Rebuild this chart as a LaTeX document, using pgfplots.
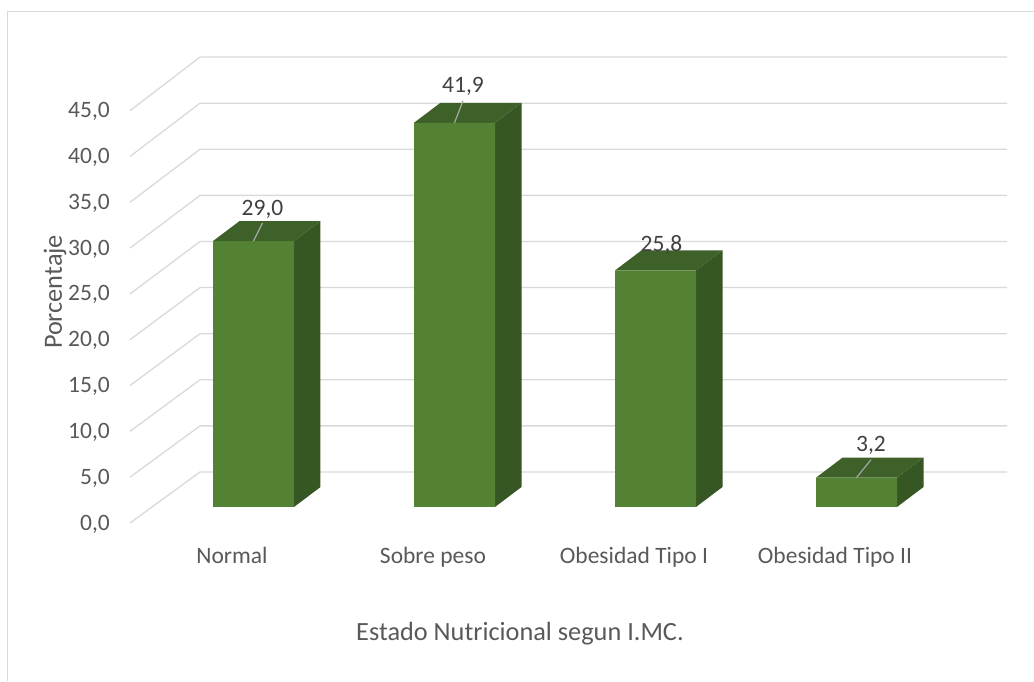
\documentclass[border=0pt]{standalone}
\usepackage{pgfplots}
\pgfplotsset{compat=1.18}
\usepackage{pgfplotstable}
\usepackage{fontspec}
\setmainfont{Carlito}

\definecolor{frontgreen}{HTML}{548235}
\definecolor{topgreen}{HTML}{3E6129}
\definecolor{sidegreen}{HTML}{365623}
\definecolor{gridgray}{HTML}{D9D9D9}
\definecolor{txtgray}{HTML}{595959}
\definecolor{lblgray}{HTML}{404040}
\definecolor{leadgray}{HTML}{A6A6A6}

% value, label offset (dx right, by up, in pt) and whether a leader line is drawn
\pgfplotstableread{
x y dx by lead
0 29.0 9 26 1
1 41.9 8.5 30 1
2 25.8 6 19 0
3 3.2 14.5 26 1
}\imctable

% bar geometry in axis units (category pitch 201pt, value unit 9.17pt)
\def\hw{0.2015}  % half width of the front face
\def\dX{0.1318}  % depth: shift to the right
\def\dY{2.181}   % depth: shift upwards

% top and side faces of the bar in row #1
\newcommand\barfaces[1]{%
  \pgfplotstablegetelem{#1}{y}\of\imctable
  \pgfmathsetmacro\bv{\pgfplotsretval}%
  \pgfmathsetmacro\xl{#1-\hw}%
  \pgfmathsetmacro\xr{#1+\hw}%
  \pgfmathsetmacro\xlb{#1-\hw+\dX}%
  \pgfmathsetmacro\xrb{#1+\hw+\dX}%
  \pgfmathsetmacro\bvb{\bv+\dY}%
  \edef\temp{%
    \noexpand\addplot[fill=sidegreen, draw=none, forget plot] coordinates {(\xr,0) (\xrb,\dY) (\xrb,\bvb) (\xr,\bv)};
    \noexpand\addplot[fill=topgreen, draw=none, forget plot] coordinates {(\xl,\bv) (\xr,\bv) (\xrb,\bvb) (\xlb,\bvb)};
  }\temp
}

\newcommand\ticksize{\fontsize{23.5pt}{28pt}\selectfont}
\newcommand\titlesize{\fontsize{26.3pt}{31pt}\selectfont}

\begin{document}
\begin{tikzpicture}
\begin{axis}[
  at={(0,0)}, anchor=south west,
  x=201pt, y=9.17pt,
  xmin=-1.2612, xmax=3.8831, ymin=-18.975, ymax=55.289,
  clip=false,
  axis line style={draw=none},
  major tick length=0pt,
  xtick={0,1,2,3},
  xticklabels={Normal,Sobre peso,Obesidad Tipo I,Obesidad Tipo II},
  ytick={0,5,...,45},
  scaled y ticks=false,
  /pgf/number format/use comma,
  /pgf/number format/fixed,
  /pgf/number format/fixed zerofill,
  /pgf/number format/precision=1,
  /pgf/number format/assume math mode=true,
  xticklabel style={font=\ticksize, text=txtgray, anchor=base, inner sep=0pt, xshift=-21.5pt, yshift=118pt},
  yticklabel style={font=\ticksize, text=txtgray, anchor=east, inner sep=0pt, xshift=110pt, yshift=-17pt},
  xlabel={Estado Nutricional segun I.MC.},
  xlabel style={at={(rel axis cs:0.5029,0.0602)}, anchor=base, font=\titlesize, text=txtgray},
  ylabel={Porcentaje},
  ylabel style={at={(rel axis cs:0.0532,0.5712)}, anchor=center, font=\titlesize, text=txtgray},
]
% side wall and back wall gridlines
\pgfplotsinvokeforeach{0,5,...,45}{
  \draw[gridgray, line width=1.3pt, line join=round]
    (axis cs:-0.6144,{(9.163*#1-16)/9.17}) --
    (axis cs:-0.2662,{(35+9.22*#1)/9.17}) --
    (axis cs:3.7488,{(35+9.22*#1)/9.17});
}
% 3D bars: side and top faces, then the front faces
\pgfplotsinvokeforeach{0,...,3}{\barfaces{#1}}
\addplot[ybar, bar width=81pt, fill=frontgreen, draw=none] table[x=x,y=y]{\imctable};
% leader lines
\addplot[leadgray, line width=1.2pt,
  quiver={u={\thisrow{lead}*\thisrow{dx}/201}, v={\thisrow{lead}*(\thisrow{by}-8)/9.17}}]
  table[x=x,y=y]{\imctable};
% value labels
\addplot[draw=none, mark=none, point meta=y, nodes near coords,
  visualization depends on={\thisrow{dx}\as\ldx},
  visualization depends on={\thisrow{by}\as\lby},
  every node near coord/.append style={anchor=base, inner sep=0pt,
    xshift=\ldx pt, yshift=\lby pt, font=\ticksize, text=lblgray}]
  table[x=x,y=y]{\imctable};
\end{axis}
% chart area border
\draw[gridgray, line width=1.3pt] (7.5pt,0) -- (7.5pt,669.5pt) -- (1034pt,669.5pt);
\pgfresetboundingbox
\useasboundingbox (0,0) rectangle (1034pt,681pt);
\end{tikzpicture}
\end{document}
